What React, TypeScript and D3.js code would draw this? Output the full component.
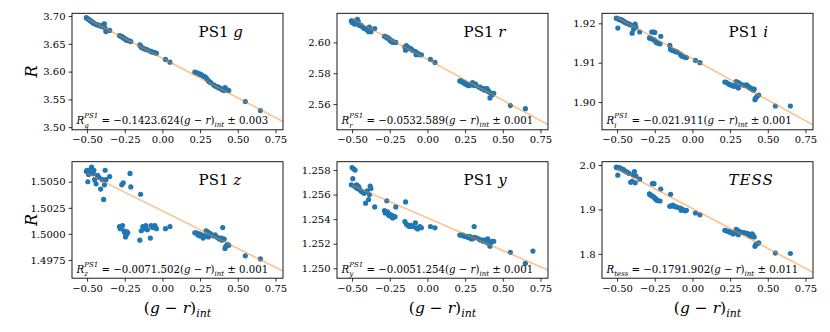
import * as d3 from 'd3';
import { useRef, useEffect } from 'react';

// (g - r)_int colour of every star, shared by all six panels
const grInt = [
  -0.505, -0.50, -0.495, -0.49, -0.485, -0.48, -0.475, -0.47, -0.465, -0.46, -0.455, -0.45, -0.44, -0.43, -0.42, -0.41, -0.40, -0.39, -0.385, -0.38, -0.375, -0.35,
  -0.285, -0.28, -0.27, -0.265, -0.26, -0.255, -0.25, -0.245, -0.24, -0.235, -0.23, -0.215, -0.21,
  -0.15, -0.145, -0.14, -0.13, -0.12, -0.11, -0.10, -0.08, -0.075, -0.065, -0.05, -0.04,
  0.02, 0.05,
  0.215, 0.225, 0.235, 0.245, 0.25, 0.26, 0.27, 0.28, 0.29, 0.30, 0.305, 0.31, 0.32, 0.34, 0.35, 0.36, 0.37, 0.375, 0.38, 0.39, 0.395, 0.40, 0.405, 0.41, 0.415, 0.42, 0.43, 0.44,
  0.55, 0.65,
];

const rG = [
  3.697, 3.696, 3.695, 3.694, 3.693, 3.692, 3.691, 3.690, 3.689, 3.688, 3.687, 3.686, 3.685, 3.684, 3.683, 3.682, 3.681, 3.685, 3.686, 3.678, 3.672, 3.674,
  3.665, 3.664, 3.663, 3.662, 3.661, 3.660, 3.659, 3.658, 3.657, 3.657, 3.656, 3.655, 3.654,
  3.648, 3.646, 3.644, 3.642, 3.641, 3.640, 3.639, 3.637, 3.636, 3.635, 3.634, 3.633,
  3.622, 3.617,
  3.599, 3.598, 3.597, 3.596, 3.595, 3.594, 3.592, 3.591, 3.589, 3.585, 3.583, 3.582, 3.580, 3.576, 3.574, 3.573, 3.572, 3.571, 3.570, 3.569, 3.568, 3.567, 3.568, 3.566, 3.571, 3.569, 3.567, 3.566,
  3.546, 3.530,
];

const rR = [
  2.614, 2.613, 2.614, 2.613, 2.612, 2.613, 2.612, 2.613, 2.615, 2.614, 2.612, 2.611, 2.611, 2.610, 2.609, 2.609, 2.608, 2.607, 2.610, 2.608, 2.607, 2.609,
  2.604, 2.604, 2.603, 2.603, 2.603, 2.602, 2.602, 2.601, 2.601, 2.601, 2.600, 2.600, 2.600,
  2.597, 2.595, 2.598, 2.597, 2.596, 2.596, 2.595, 2.594, 2.592, 2.593, 2.592, 2.592,
  2.589, 2.587,
  2.575, 2.575, 2.574, 2.574, 2.573, 2.573, 2.572, 2.572, 2.573, 2.574, 2.573, 2.572, 2.573, 2.571, 2.571, 2.570, 2.570, 2.570, 2.569, 2.569, 2.570, 2.569, 2.568, 2.568, 2.564, 2.567, 2.566, 2.567,
  2.559, 2.557,
];

const rI = [
  1.9213, 1.9212, 1.9188, 1.9211, 1.9210, 1.9210, 1.9208, 1.9209, 1.9207, 1.9206, 1.9205, 1.9203, 1.9201, 1.9200, 1.9198, 1.9196, 1.9175, 1.9185, 1.9192, 1.9198, 1.9190, 1.9178,
  1.9163, 1.9162, 1.9178, 1.9160, 1.9178, 1.9158, 1.9177, 1.9155, 1.9152, 1.9151, 1.9150, 1.9148, 1.9167,
  1.9144, 1.9134, 1.9133, 1.9131, 1.9130, 1.9128, 1.9127, 1.9122, 1.9118, 1.9116, 1.9114, 1.9113,
  1.9106, 1.9100,
  1.9051, 1.9050, 1.9047, 1.9045, 1.9044, 1.9043, 1.9041, 1.9040, 1.9052, 1.9050, 1.9036, 1.9048, 1.9045, 1.9043, 1.9042, 1.9044, 1.9040, 1.9038, 1.9036, 1.9035, 1.9033, 1.9032, 1.9030, 1.9033, 1.9006, 1.9011, 1.9015, 1.9018,
  1.8990, 1.8990,
];

const rZ = [
  1.5060, 1.5061, 1.5050, 1.5057, 1.5059, 1.5060, 1.5062, 1.5064, 1.5060, 1.5058, 1.5061, 1.5052, 1.5048, 1.5056, 1.5054, 1.5043, 1.5052, 1.5033, 1.5047, 1.5061, 1.5052, 1.5055,
  1.5007, 1.5005, 1.5047, 1.5008, 1.5049, 1.5003, 1.5001, 1.4997, 1.4999, 1.5002, 1.5001, 1.5058, 1.5045,
  1.4994, 1.5038, 1.5003, 1.5007, 1.5005, 1.5008, 1.5004, 1.4996, 1.5008, 1.5006, 1.5008, 1.5005,
  1.5005, 1.5007,
  1.5001, 1.5001, 1.4999, 1.5000, 1.4998, 1.4999, 1.4996, 1.4998, 1.5003, 1.5002, 1.4997, 1.5001, 1.5000, 1.4998, 1.4999, 1.4997, 1.4996, 1.4996, 1.4995, 1.4996, 1.4994, 1.5006, 1.4995, 1.4995, 1.4986, 1.4988, 1.4990, 1.4989,
  1.4979, 1.4976,
];

const rY = [
  1.2568, 1.2582, 1.2573, 1.2581, 1.2567, 1.2580, 1.2566, 1.2568, 1.2565, 1.2567, 1.2566, 1.2564, 1.2563, 1.2562, 1.2561, 1.2553, 1.2563, 1.2556, 1.2560, 1.2567, 1.2565, 1.2550,
  1.2547, 1.2545, 1.2555, 1.2546, 1.2544, 1.2543, 1.2544, 1.2543, 1.2542, 1.2543, 1.2541, 1.2542, 1.2550,
  1.2538, 1.2554, 1.2536, 1.2535, 1.2534, 1.2535, 1.2534, 1.2537, 1.2533, 1.2532, 1.2534, 1.2533,
  1.2534, 1.2533,
  1.2527, 1.2527, 1.2527, 1.2526, 1.2526, 1.2526, 1.2525, 1.2526, 1.2524, 1.2524, 1.2525, 1.2534, 1.2525, 1.2524, 1.2523, 1.2523, 1.2522, 1.2523, 1.2522, 1.2523, 1.2521, 1.2524, 1.2522, 1.2520, 1.2518, 1.2521, 1.2522, 1.2522,
  1.2513, 1.2504,
];
// one more star only appears in the y band
const extraY_gr = [0.70];
const extraY_R = [1.2514];

const rTess = [
  1.995, 1.994, 1.977, 1.994, 1.993, 1.993, 1.992, 1.991, 1.990, 1.990, 1.988, 1.987, 1.985, 1.983, 1.981, 1.961, 1.963, 1.977, 1.985, 1.960, 1.975, 1.968,
  1.935, 1.933, 1.931, 1.958, 1.929, 1.958, 1.926, 1.924, 1.922, 1.921, 1.920, 1.919, 1.946,
  1.907, 1.934, 1.908, 1.910, 1.907, 1.906, 1.905, 1.903, 1.898, 1.900, 1.897, 1.898,
  1.892, 1.888,
  1.853, 1.852, 1.851, 1.850, 1.849, 1.848, 1.845, 1.847, 1.855, 1.853, 1.843, 1.850, 1.849, 1.848, 1.847, 1.846, 1.845, 1.843, 1.842, 1.840, 1.845, 1.843, 1.840, 1.838, 1.817, 1.821, 1.823, 1.825,
  1.802, 1.801,
];

// fitted relations: [slope, intercept, scatter]
const fitG = [-0.1423, 3.624, 0.003];
const fitR = [-0.053, 2.589, 0.001];
const fitI = [-0.021, 1.911, 0.001];
const fitZ = [-0.0072, 1.5022, 0.001];
const fitY = [-0.0053, 1.2541, 0.001];
const fitTess = [-0.179, 1.902, 0.011];

const xTicks = [-0.5, -0.25, 0, 0.25, 0.5, 0.75];
const FONT = "DejaVu Serif";

const panels = [
  { band: 'g', xs: grInt, ys: rG, fit: fitG, eq: '0.1423.624', err: '0.003', dom: [3.4953, 3.7049], ticks: [3.5, 3.55, 3.6, 3.65, 3.7], fmt: '.2f' },
  { band: 'r', xs: grInt, ys: rR, fit: fitR, eq: '0.0532.589', err: '0.001', dom: [2.5433, 2.6189], ticks: [2.56, 2.58, 2.6], fmt: '.2f' },
  { band: 'i', xs: grInt, ys: rI, fit: fitI, eq: '0.021.911', err: '0.001', dom: [1.89296, 1.92255], ticks: [1.9, 1.91, 1.92], fmt: '.2f' },
  { band: 'z', xs: grInt, ys: rZ, fit: fitZ, eq: '0.0071.502', err: '0.001', dom: [1.49575, 1.50692], ticks: [1.4975, 1.5, 1.5025, 1.505], fmt: '.4f' },
  { band: 'y', xs: grInt.concat(extraY_gr), ys: rY.concat(extraY_R), fit: fitY, eq: '0.0051.254', err: '0.001', dom: [1.24919, 1.25868], ticks: [1.25, 1.252, 1.254, 1.256, 1.258], fmt: '.3f' },
  { band: 'tess', xs: grInt, ys: rTess, fit: fitTess, eq: '0.1791.902', err: '0.011', dom: [1.7454, 2.0074], ticks: [1.8, 1.9, 2.0], fmt: '.1f' },
];

export default function App() {
  const ref = useRef<SVGSVGElement>(null);

  useEffect(() => {
    const width = 830;
    const height = 332;
    const colX = [72, 337, 602];
    const rowY = [13.3, 161.7];
    const pw = 211;
    const ph = 116.5;

    const svg = d3.select(ref.current)
      .attr('width', width)
      .attr('height', height)
      .attr('viewBox', `0 0 ${width} ${height}`)
      .style('font-family', FONT);
    svg.selectAll('*').remove();

    svg.append('rect').attr('width', width).attr('height', height).attr('fill', '#fff');

    panels.forEach((p, i) => {
      const left = colX[i % 3];
      const top = rowY[Math.floor(i / 3)];
      const x = d3.scaleLinear().domain([-0.6, 0.8]).range([0, pw]);
      const y = d3.scaleLinear().domain(p.dom).range([ph, 0]);

      const g = svg.append('g').attr('transform', `translate(${left},${top})`);

      g.append('clipPath').attr('id', `clip${i}`)
        .append('rect').attr('width', pw).attr('height', ph);

      const plot = g.append('g').attr('clip-path', `url(#clip${i})`);

      // stars
      plot.selectAll('circle')
        .data(d3.zip(p.xs, p.ys))
        .join('circle')
        .attr('cx', d => x(d[0]))
        .attr('cy', d => y(d[1]))
        .attr('r', 2.6)
        .attr('fill', '#1f77b4');

      // linear fit, half transparent over the points
      const line = d3.line<number>().x(d => x(d)).y(d => y(p.fit[1] + p.fit[0] * d));
      plot.append('path')
        .attr('d', line([-0.5, 0.8]))
        .attr('fill', 'none')
        .attr('stroke', '#ff7f0e')
        .attr('stroke-opacity', 0.5)
        .attr('stroke-width', 1.5);

      // axes
      g.append('g')
        .attr('transform', `translate(0,${ph})`)
        .call(d3.axisBottom(x).tickValues(xTicks).tickSize(3.5).tickPadding(3).tickFormat(d3.format('.2f')))
        .call(a => a.select('.domain').remove())
        .attr('font-family', FONT)
        .attr('font-size', 10);

      g.append('g')
        .call(d3.axisLeft(y).tickValues(p.ticks).tickSize(3.5).tickPadding(3).tickFormat(d3.format(p.fmt)))
        .call(a => a.select('.domain').remove())
        .attr('font-family', FONT)
        .attr('font-size', 10);

      g.selectAll('.tick line').attr('stroke', '#000').attr('stroke-width', 0.8);
      g.selectAll('.tick text').attr('fill', '#000');

      g.append('rect')
        .attr('width', pw).attr('height', ph)
        .attr('fill', 'none').attr('stroke', '#000').attr('stroke-width', 0.9);

      // band title
      const t = g.append('text')
        .attr('x', 0.6 * pw).attr('y', ph * 0.2)
        .attr('font-family', FONT).attr('font-size', 15);
      if (p.band === 'tess') {
        t.append('tspan').attr('font-style', 'italic').attr('letter-spacing', 1).text('TESS');
      } else {
        t.append('tspan').text('PS1 ');
        t.append('tspan').attr('font-style', 'italic').text(p.band);
      }

      // relation text, one text element; sub and superscript stacked after R
      const ex = 4.5;
      const ey = ph - 5.5;
      const eq = g.append('text').attr('x', ex).attr('y', ey)
        .attr('font-family', FONT).attr('font-size', 10.2);
      const rT = eq.append('tspan').attr('font-style', 'italic').text('R');
      if (p.band === 'tess') {
        eq.append('tspan').attr('font-style', 'italic').attr('font-size', 7).attr('dy', 3).text('tess');
        eq.append('tspan').attr('dy', -3).text(` = \u2212${p.eq}(`);
      } else {
        const sup = eq.append('tspan').attr('font-style', 'italic').attr('font-size', 7).attr('dy', -6).text('PS1');
        const rw = (rT.node() as SVGTextContentElement).getComputedTextLength();
        const sw = (sup.node() as SVGTextContentElement).getComputedTextLength();
        eq.append('tspan').attr('x', ex + rw).attr('dy', 9.5)
          .attr('font-style', 'italic').attr('font-size', 7).text(p.band);
        eq.append('tspan').attr('x', ex + rw + sw).attr('dy', -3.5).text(` = \u2212${p.eq}(`);
      }
      eq.append('tspan').attr('font-style', 'italic').text('g');
      eq.append('tspan').text(' \u2212 ');
      eq.append('tspan').attr('font-style', 'italic').text('r');
      eq.append('tspan').text(')');
      eq.append('tspan').attr('font-style', 'italic').attr('font-size', 7).attr('dy', 3).text('int');
      eq.append('tspan').attr('dy', -3).text(` \u00b1 ${p.err}`);

      // axis titles
      if (i % 3 === 0) {
        svg.append('text')
          .attr('transform', `translate(37,${top + ph / 2}) rotate(-90)`)
          .attr('text-anchor', 'middle')
          .attr('font-family', FONT).attr('font-size', 16).attr('font-style', 'italic')
          .text('R');
      }
      if (i >= 3) {
        const xl = svg.append('text')
          .attr('x', left + pw / 2).attr('y', 313)
          .attr('text-anchor', 'middle')
          .attr('font-family', FONT).attr('font-size', 15.5);
        xl.append('tspan').text('(');
        xl.append('tspan').attr('font-style', 'italic').text('g');
        xl.append('tspan').text(' \u2212 ');
        xl.append('tspan').attr('font-style', 'italic').text('r');
        xl.append('tspan').text(')');
        xl.append('tspan').attr('font-style', 'italic').attr('font-size', 11).attr('dy', 4).text('int');
      }
    });
  }, []);

  return (
    <svg ref={ref} style={{ position: 'absolute', left: 0, top: 0 }}></svg>
  );
}
